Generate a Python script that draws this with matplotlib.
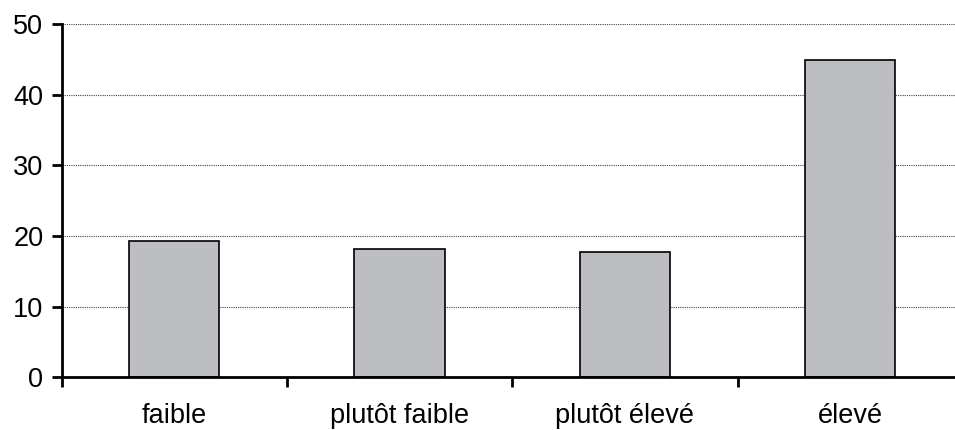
import matplotlib
matplotlib.use("Agg")
import matplotlib.pyplot as plt
import numpy as np

categories = ["faible", "plutôt faible", "plutôt élevé", "élevé"]
values = [19.3, 18.1, 17.8, 44.9]
yticks = [0, 10, 20, 30, 40, 50]

plt.rcParams['font.family'] = ['Liberation Sans', 'DejaVu Sans']

fig = plt.figure(figsize=(9.55, 4.3), dpi=100)
W, H = 955, 430
left, right, top, bottom = 61.5, 963, 24, 377.3
ax = fig.add_axes([left / W, 1 - bottom / H, (right - left) / W, (bottom - top) / H])

x = np.arange(len(categories))
ax.bar(x, values, width=0.40, color="#bdbec2", edgecolor="black", linewidth=1.2, zorder=3)

ax.set_xlim(-0.5, len(categories) - 0.5)
ax.set_ylim(0, 50)
ax.set_yticks(yticks)
ax.set_yticklabels([str(v) for v in yticks])
ax.set_xticks(x)
ax.set_xticklabels(categories)
ax.set_xticks(np.arange(-0.5, len(categories) - 0.5, 1.0), minor=True)

ax.yaxis.grid(True, linestyle=(0, (1, 1)), color="#444444", linewidth=0.8, zorder=0)
ax.set_axisbelow(True)

for s in ["top", "right"]:
    ax.spines[s].set_visible(False)
for s in ["left", "bottom"]:
    ax.spines[s].set_linewidth(2.0)
    ax.spines[s].set_zorder(4)

ax.tick_params(axis="y", which="major", direction="out", length=7, width=2.0, pad=6, labelsize=19.5)
ax.tick_params(axis="x", which="major", length=0, pad=18.5, labelsize=19.5)
ax.tick_params(axis="x", which="minor", direction="out", length=7, width=2.0)

fig.savefig("out.png", dpi=100)
